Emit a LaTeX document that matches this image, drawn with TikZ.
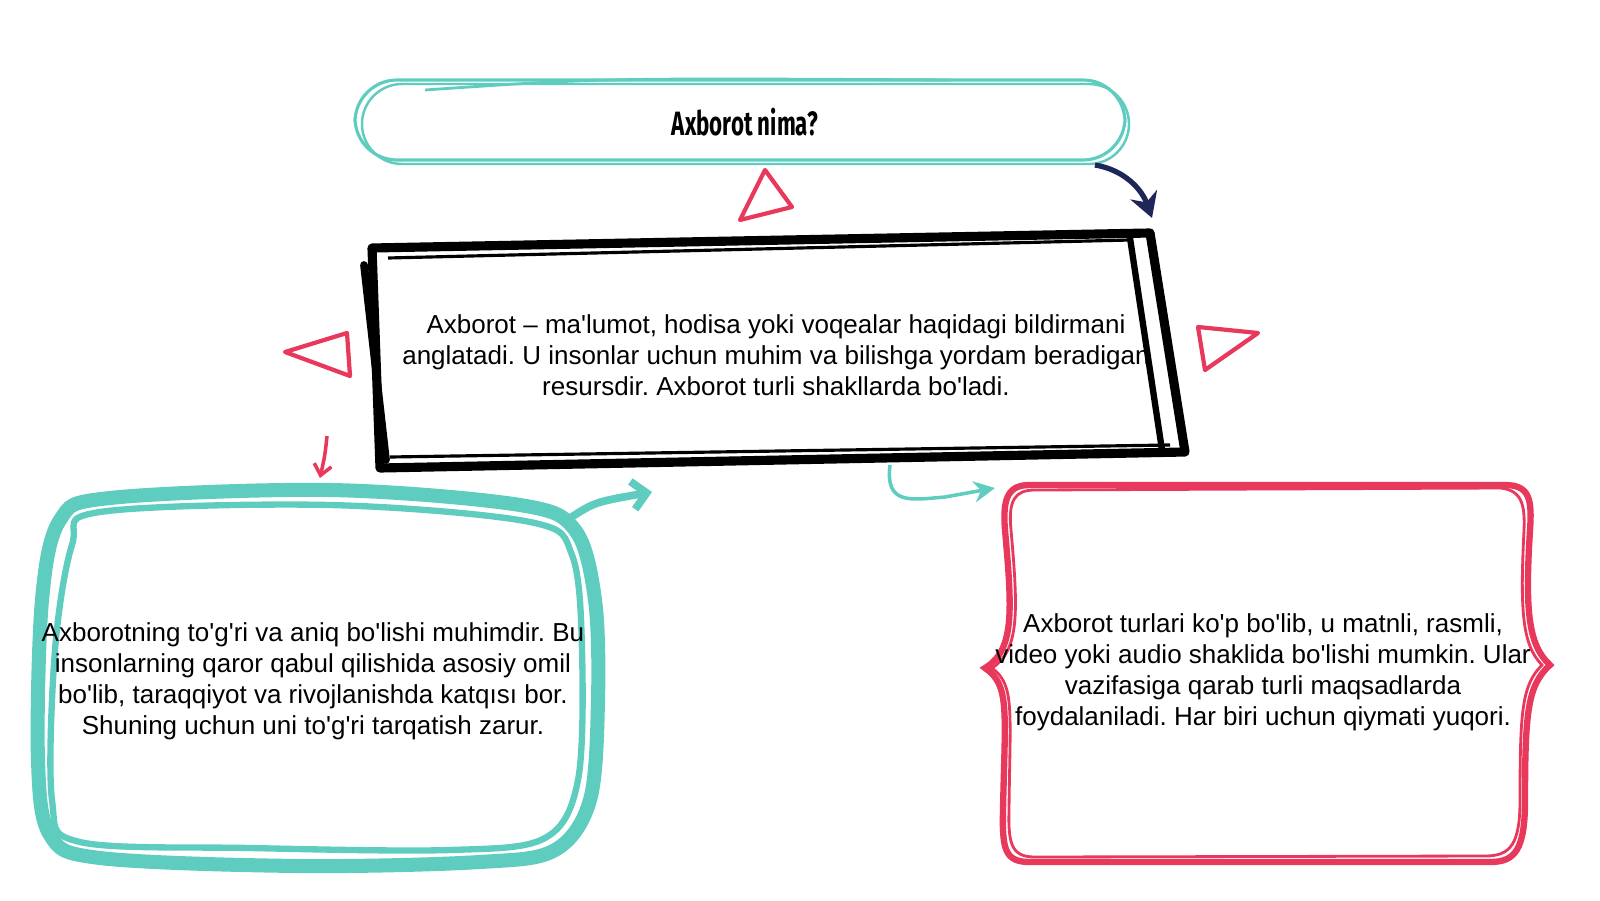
\documentclass[tikz,border=0pt]{standalone}
\usepackage{fontspec}
\setmainfont{Liberation Sans}
\newfontfamily\titlefont[FakeStretch=0.66]{Fira Sans}
\usetikzlibrary{arrows.meta}
\definecolor{sketchteal}{HTML}{5ECDC0}
\definecolor{sketchpink}{HTML}{E8385C}
\definecolor{sketchnavy}{HTML}{1F2759}
\newcommand{\ap}{\textquotesingle}
\frenchspacing
\tikzset{
  bodytext/.style={align=center, inner sep=0pt, font=\fontsize{7.4}{8.8}\selectfont},
  pinktri/.style={draw=sketchpink, line width=1.2pt, line join=round},
}
\begin{document}
\begin{tikzpicture}
\useasboundingbox (0,0) rectangle (16,9);

% Title frame
\draw[sketchteal, line width=0.9pt, rounded corners=0.42cm] (3.55,7.40) rectangle (11.25,8.20);
\draw[sketchteal, line width=0.7pt, rounded corners=0.40cm] (3.62,7.36) rectangle (11.29,8.16);
\draw[sketchteal, line width=0.8pt] (4.25,8.10) .. controls (6.00,8.22) .. (9.50,8.20);
\node[font=\titlefont\bfseries\fontsize{9.6}{11}\selectfont] (title) at (7.45,7.78) {Axborot nima?};

% Left frame
\draw[sketchteal, line width=4pt] plot[smooth cycle, tension=0.55] coordinates {(1.10,4.02) (3.30,4.10) (5.20,3.95) (5.75,3.70) (5.95,3.00) (5.98,2.00) (5.90,1.00) (5.55,0.50) (4.80,0.38) (3.00,0.34) (1.00,0.42) (0.50,0.65) (0.38,1.40) (0.42,3.00) (0.60,3.80)};
\draw[sketchteal, line width=1.8pt] plot[smooth cycle, tension=0.55] coordinates {(1.00,3.88) (3.30,3.95) (5.30,3.78) (5.72,3.45) (5.82,2.50) (5.78,1.20) (5.45,0.62) (4.50,0.50) (2.50,0.52) (0.80,0.58) (0.52,1.00) (0.55,2.50) (0.72,3.55)};

% Right frame
\draw[sketchpink, line width=1.8pt] (10.30,4.15) -- (15.05,4.15) .. controls (15.30,4.15) and (15.32,4.00) .. (15.30,3.70) .. controls (15.25,2.90) and (15.28,2.55) .. (15.50,2.35) .. controls (15.28,2.15) and (15.25,1.90) .. (15.25,1.00) .. controls (15.25,0.50) and (15.15,0.38) .. (14.90,0.38) -- (10.30,0.38) .. controls (10.05,0.38) and (10.02,0.50) .. (10.03,0.90) .. controls (10.05,1.90) and (10.10,2.15) .. (9.85,2.32) .. controls (10.15,2.50) and (10.12,2.90) .. (10.05,3.70) .. controls (10.02,4.05) and (10.10,4.15) .. (10.30,4.15) -- cycle;
\draw[sketchpink, line width=0.8pt] (10.35,4.10) -- (15.00,4.12) .. controls (15.22,4.10) and (15.25,3.95) .. (15.24,3.70) .. controls (15.20,2.90) and (15.22,2.55) .. (15.42,2.35) .. controls (15.22,2.15) and (15.20,1.90) .. (15.20,1.00) .. controls (15.20,0.55) and (15.10,0.44) .. (14.85,0.44) -- (10.35,0.43) .. controls (10.12,0.43) and (10.08,0.55) .. (10.09,0.90) .. controls (10.10,1.90) and (10.15,2.15) .. (9.92,2.32) .. controls (10.20,2.50) and (10.18,2.90) .. (10.11,3.70) .. controls (10.08,4.00) and (10.15,4.10) .. (10.35,4.10);

% Texts
\node[bodytext] (mainText) at (7.76,5.45) {Axborot – ma\ap lumot, hodisa yoki voqealar haqidagi bildirmani\\anglatadi. U insonlar uchun muhim va bilishga yordam beradigan\\resursdir. Axborot turli shakllarda bo\ap ladi.};
\node[bodytext] (leftText) at (3.13,2.19) {Axborotning to\ap g\ap ri va aniq bo\ap lishi muhimdir. Bu\\insonlarning qaror qabul qilishida asosiy omil\\bo\ap lib, taraqqiyot va rivojlanishda katqısı bor.\\Shuning uchun uni to\ap g\ap ri tarqatish zarur.};
\node[bodytext] (rightText) at (12.63,2.28) {Axborot turlari ko\ap p bo\ap lib, u matnli, rasmli,\\video yoki audio shaklida bo\ap lishi mumkin. Ular\\vazifasiga qarab turli maqsadlarda\\foydalaniladi. Har biri uchun qiymati yuqori.};

% Main frame
\draw[line width=2.6pt, line join=round] (3.72,6.52) -- (11.50,6.67) -- (11.85,4.48) -- (3.80,4.32) -- cycle;
\draw[line width=2.2pt, line cap=round] (3.64,6.35) -- (3.86,4.40);
\draw[line width=1.8pt, line cap=round] (11.30,6.62) -- (11.62,4.50);
\draw[line width=0.9pt] (3.88,6.42) -- (11.30,6.60);
\draw[line width=0.9pt] (3.90,4.43) -- (11.70,4.55);

% Triangles
\draw[pinktri] (7.65,7.30) -- (7.40,6.80) -- (7.92,6.93) -- cycle;
\draw[pinktri] (2.85,5.48) -- (3.47,5.67) -- (3.50,5.24) -- cycle;
\draw[pinktri] (11.98,5.73) -- (12.58,5.67) -- (12.05,5.30) -- cycle;

% Arrows
\coordinate (navyFrom) at (10.95,7.35);
\coordinate (navyTo) at (11.52,6.82);
\draw[sketchnavy, line width=1.5pt, -{Stealth[length=7pt, width=8pt]}] (navyFrom) .. controls (11.25,7.30) and (11.42,7.10) .. (navyTo);
\coordinate (pinkFrom) at (3.27,4.64);
\coordinate (pinkTo) at (3.20,4.22);
\draw[sketchpink, line width=1pt, -{Straight Barb[length=3pt, width=5pt]}] (pinkFrom) .. controls (3.25,4.45) .. (pinkTo);
\coordinate (tealFrom) at (5.70,3.82);
\coordinate (tealTo) at (6.52,4.08);
\draw[sketchteal, line width=2.2pt, line cap=round, -{Straight Barb[length=4pt, width=8pt]}] (tealFrom) .. controls (5.95,3.98) .. (tealTo);
\coordinate (hookFrom) at (8.90,4.35);
\coordinate (hookTo) at (9.95,4.12);
\draw[sketchteal, line width=1pt, -{Stealth[length=6pt, width=6pt]}] (hookFrom) .. controls (8.85,3.95) and (9.10,4.00) .. (9.45,4.03) -- (hookTo);

\end{tikzpicture}
\end{document}
